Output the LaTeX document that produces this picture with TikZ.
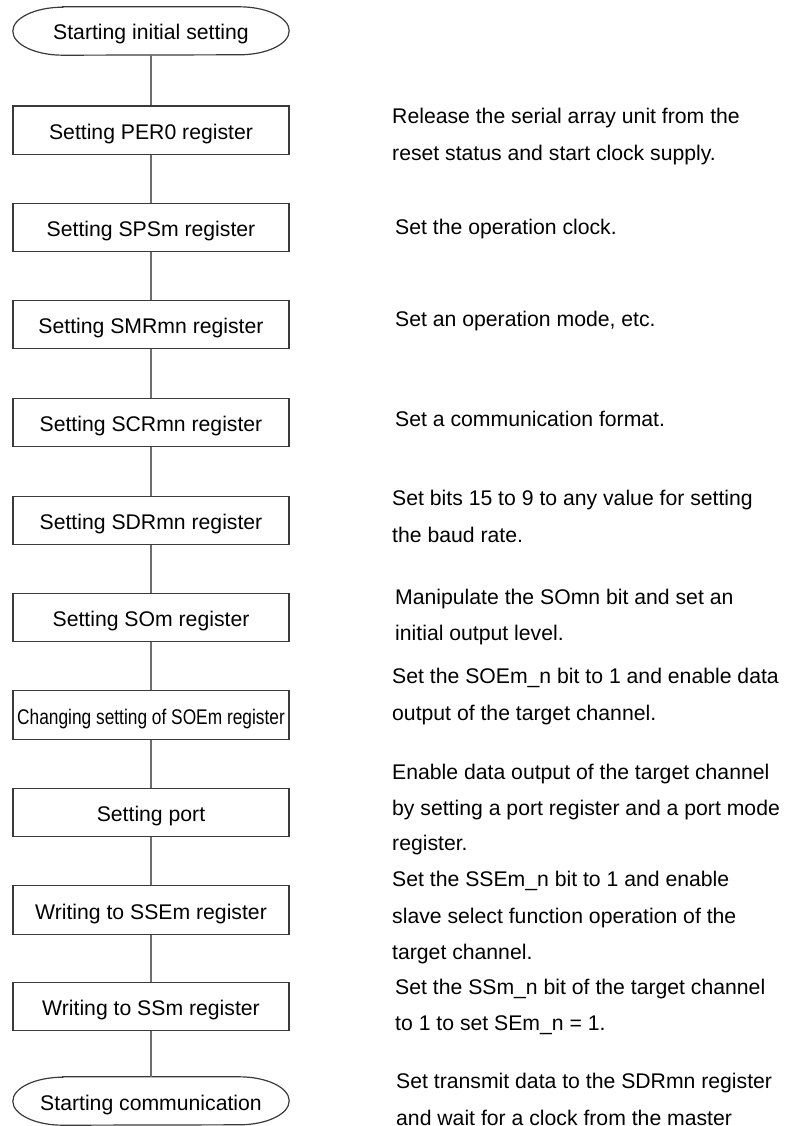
\documentclass[tikz,border=0pt]{standalone}
\usepackage{fontspec}
\usepackage{graphicx}
\setmainfont{Liberation Sans}
\definecolor{boxc}{HTML}{3A3A3A}
\definecolor{linec}{HTML}{6E6E6E}
\newcommand\fsz{\fontsize{21.2}{37}\selectfont}
\newcommand\fszb{\fontsize{21.2}{35.5}\selectfont}
\newcommand\fszc{\fontsize{21.2}{36.5}\selectfont}
\begin{document}
\begin{tikzpicture}[x=1pt,y=-1pt,
  stepbox/.style={draw=boxc,line width=1.2pt,minimum width=276pt,minimum height=48.5pt,inner sep=0pt,font=\fsz,text height=18pt,text depth=0pt},
  term/.style={minimum width=276pt,minimum height=48pt,inner sep=0pt,font=\fsz,text height=18pt,text depth=0pt},
  desc/.style={anchor=north west,align=left,inner sep=0pt,font=\fsz},
  descb/.style={desc,font=\fszb},
  descc/.style={desc,font=\fszc},
  link/.style={draw=linec,line width=1.2pt}]
\useasboundingbox (0,0) rectangle (788,1126);
\clip (0,0) rectangle (788,1126);

% flow column
\node[term] (s) at (151,31) {Starting initial setting};
\node[stepbox] (b1) at (151,130.3) {Setting PER0 register};
\node[stepbox] (b2) at (151,227.5) {Setting SPSm register};
\node[stepbox] (b3) at (151,324.5) {Setting SMRmn register};
\node[stepbox] (b4) at (151,422.5) {Setting SCRmn register};
\node[stepbox] (b5) at (151,520.5) {Setting SDRmn register};
\node[stepbox] (b6) at (151,617.5) {Setting SOm register};
\node[stepbox] (b7) at (151,715) {\scalebox{0.817}[1]{Changing setting of SOEm register}};
\node[stepbox] (b8) at (151,812.5) {Setting port};
\node[stepbox] (b9) at (151,910) {Writing to SSEm register};
\node[stepbox] (b10) at (151,1006.5) {Writing to SSm register};
\node[term] (e) at (151,1101) {Starting communication};

\foreach \n in {s,e}
  \draw[boxc,line width=1.2pt] ([xshift=50pt]\n.north west) -- ([xshift=-50pt]\n.north east)
    arc[start angle=90,end angle=-90,x radius=50pt,y radius=24pt]
    -- ([xshift=50pt]\n.south west)
    arc[start angle=270,end angle=90,x radius=50pt,y radius=24pt] -- cycle;

\draw[link] (s) -- (b1);
\draw[link] (b1) -- (b2);
\draw[link] (b2) -- (b3);
\draw[link] (b3) -- (b4);
\draw[link] (b4) -- (b5);
\draw[link] (b5) -- (b6);
\draw[link] (b6) -- (b7);
\draw[link] (b7) -- (b8);
\draw[link] (b8) -- (b9);
\draw[link] (b9) -- (b10);
\draw[link] (b10) -- (e);

% descriptions
\node[desc] (d1) at (392,108) {Release the serial array unit from the\\reset status and start clock supply.};
\node[desc] (d2) at (395,219) {Set the operation clock.};
\node[desc] (d3) at (395,311) {Set an operation mode, etc.};
\node[desc] (d4) at (395,411) {Set a communication format.};
\node[desc] (d5) at (392,490) {Set bits 15 to 9 to any value for setting\\the baud rate.};
\node[descb] (d6) at (395,589) {Manipulate the SOmn bit and set an\\initial output level.};
\node[desc] (d7) at (392,668) {Set the SOEm\_n bit to 1 and enable data\\output of the target channel.};
\node[descb] (d8) at (392,764) {Enable data output of the target channel\\by setting a port register and a port mode\\register.};
\node[descc] (d9) at (392,871) {Set the SSEm\_n bit to 1 and enable\\slave select function operation of the\\target channel.};
\node[descb] (d10) at (395,979) {Set the SSm\_n bit of the target channel\\to 1 to set SEm\_n = 1.};
\node[descc] (d11) at (396,1073) {Set transmit data to the SDRmn register\\and wait for a clock from the master};
\end{tikzpicture}
\end{document}
